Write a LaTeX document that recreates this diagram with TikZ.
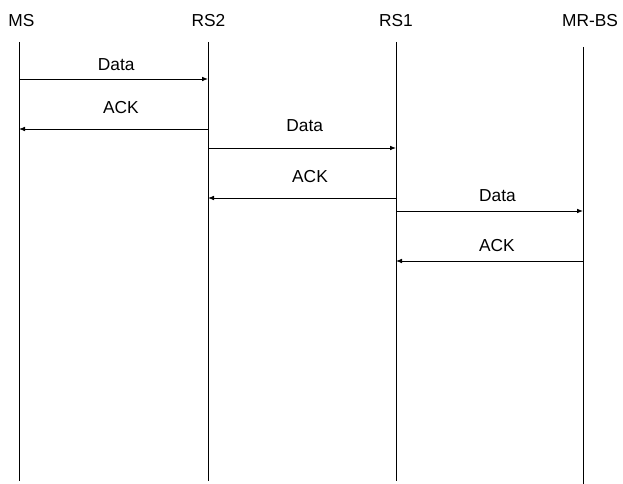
\documentclass[tikz,border=0pt]{standalone}
\usepackage{fontspec}
\setmainfont{Liberation Sans}
\usetikzlibrary{positioning, arrows.meta}

\begin{document}
\begin{tikzpicture}[x=0.75pt, y=-0.75pt]
\tikzset{
every node/.style={font=\fontsize{13}{15}\selectfont, inner sep=1pt}, % plain sans labels
life/.style={line width=0.6pt}, % the vertical lifelines
msg/.style={-{Latex[length=4.5pt,width=3.5pt]}, line width=0.6pt}, % message arrows
}
\useasboundingbox (0,0) rectangle (623,484);

	% headers
	\node (ms) at (21.5,20.5) {MS};
	\node (rs2) at (208.5,20.5) {RS2};
	\node (rs1) at (396,20.5) {RS1};
	\node (mrbs) at (590,20.5) {MR-BS};

	% lifelines
	\coordinate (ms top) at (19,42);   \coordinate (ms bot) at (19,481);
	\coordinate (rs2 top) at (208,42); \coordinate (rs2 bot) at (208,481);
	\coordinate (rs1 top) at (396,42); \coordinate (rs1 bot) at (396,481);
	\coordinate (mrbs top) at (583,47); \coordinate (mrbs bot) at (583,484);
	\draw[life] (ms top) -- (ms bot);
	\draw[life] (rs2 top) -- (rs2 bot);
	\draw[life] (rs1 top) -- (rs1 bot);
	\draw[life] (mrbs top) -- (mrbs bot);

	% message points
	\coordinate (ms d1) at (19,79);   \coordinate (rs2 d1) at (208,79);
	\coordinate (ms a1) at (19,129);  \coordinate (rs2 a1) at (208,129);
	\coordinate (rs2 d2) at (208,148); \coordinate (rs1 d2) at (396,148);
	\coordinate (rs2 a2) at (208,198); \coordinate (rs1 a2) at (396,198);
	\coordinate (rs1 d3) at (396,211); \coordinate (mrbs d3) at (583,211);
	\coordinate (rs1 a3) at (396,261); \coordinate (mrbs a3) at (583,261);

	\draw[msg] (ms d1) -- node[yshift=10.5pt, xshift=2pt] {Data} (rs2 d1);
	\draw[msg] (rs2 a1) -- node[yshift=16pt, xshift=5.5pt] {ACK} (ms a1);
	\draw[msg] (rs2 d2) -- node[yshift=17pt, xshift=2pt] {Data} (rs1 d2);
	\draw[msg] (rs1 a2) -- node[yshift=16pt, xshift=6pt] {ACK} (rs2 a2);
	\draw[msg] (rs1 d3) -- node[yshift=11.5pt, xshift=6pt] {Data} (mrbs d3);
	\draw[msg] (mrbs a3) -- node[yshift=11.5pt, xshift=5.5pt] {ACK} (rs1 a3);
\end{tikzpicture}
\end{document}
